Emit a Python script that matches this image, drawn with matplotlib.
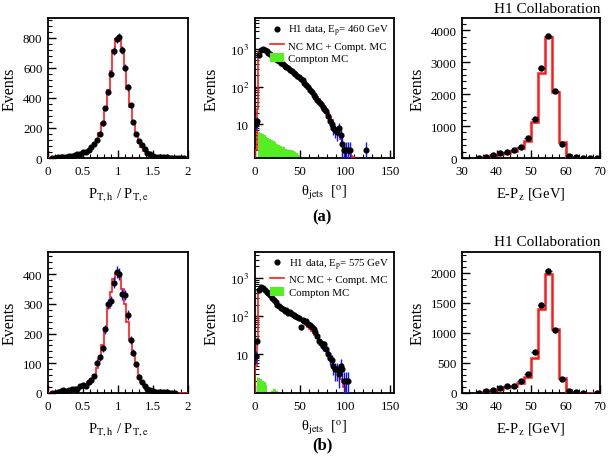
import numpy as np
import matplotlib
matplotlib.use('Agg')
import matplotlib.pyplot as plt
from matplotlib.lines import Line2D
from matplotlib.patches import Patch
from matplotlib.ticker import FixedLocator, FixedFormatter, AutoMinorLocator, LogLocator, NullFormatter

plt.rcParams['font.family'] = ['Liberation Serif', 'DejaVu Serif']
plt.rcParams['mathtext.fontset'] = 'stix'

# ---- P_T,h / P_T,e balance (0.04 wide bins, 0..2)
pt_edges = np.linspace(0, 2, 51)
pt_data_a = [0, 2, 3, 4, 6, 8, 10, 12, 15, 20, 25, 30, 40, 38, 55, 70, 90, 120, 160, 230,
             330, 440, 560, 710, 790, 805, 720, 600, 470, 350, 240, 160, 110, 85, 60, 35, 25, 15, 10, 8,
             6, 5, 4, 3, 2, 2, 1, 1, 1, 0]
pt_mc_a = [0, 1, 2, 4, 5, 7, 9, 11, 14, 18, 23, 29, 35, 42, 52, 66, 88, 118, 165, 235,
           335, 450, 580, 720, 790, 800, 710, 590, 460, 340, 235, 150, 100, 70, 48, 32, 22, 15, 10, 7,
           5, 4, 3, 2, 2, 1, 1, 1, 0, 0]
pt_data_b = [0, 1, 1, 2, 6, 9, 8, 10, 12, 14, 15, 22, 26, 25, 38, 45, 58, 100, 120, 150,
             215, 300, 310, 372, 408, 400, 332, 330, 262, 180, 135, 96, 55, 38, 22, 15, 10, 7, 5, 4,
             3, 2, 2, 1, 1, 1, 0, 0, 0, 0]
pt_mc_b = [0, 1, 1, 2, 4, 6, 7, 9, 11, 13, 16, 20, 24, 29, 36, 46, 62, 85, 115, 160,
           220, 285, 340, 385, 405, 390, 350, 300, 240, 180, 130, 90, 58, 38, 24, 16, 10, 7, 5, 3,
           2, 2, 1, 1, 1, 0, 0, 0, 0, 0]

# ---- theta_jets (2 degree bins, 0..130)
th_edges = np.arange(0, 132, 2)
th_data_a = [10, 12, 700, 960, 1000, 960, 880, 800, 735, 675, 620, 565, 520, 475, 435, 400, 365, 335,
             305, 280, 255, 235, 215, 195, 180, 165, 150, 128, 110, 95, 82, 71, 61, 53, 45, 39, 34, 29,
             25, 22, 17, 12, 10, 8, 7, 6, 8, 5, 3, 2, 2, 2, 2, 0, 0, 0, 0, 0, 0, 0, 0, 2, 0, 0, 0]
th_mc_a = [2, 25, 820, 900, 920, 880, 820, 760, 700, 640, 590, 540, 495, 455, 420, 385, 355, 325,
           298, 272, 250, 230, 210, 192, 176, 160, 147, 133, 118, 104, 92, 80, 70, 61, 53, 46, 40, 34,
           29, 25, 20, 16, 13, 10, 8, 6, 5, 4, 3, 2.5, 2, 1.8, 1.6, 1.4, 1.3, 0, 0, 0, 0, 0, 0, 0, 0, 0, 0]
th_compt_a = [0, 0, 6, 5.8, 5.5, 5, 4.6, 4.2, 4, 3.8, 3.5, 3.3, 3, 2.8, 2.6, 2.5, 2.4, 2.2, 2.1, 2.0,
              2.0, 1.9, 1.8, 1.7, 1.5] + [0] * 40
th_data_b = [9, 22, 480, 570, 530, 490, 440, 400, 350, 300, 270, 230, 200, 180, 160, 150, 135, 140,
             120, 125, 112, 105, 98, 95, 88, 50, 80, 72, 75, 62, 58, 52, 45, 38, 30, 22, 20, 16, 18, 14,
             10, 8, 7, 5, 4, 4, 3, 5, 4, 2, 2, 2] + [0] * 13
th_mc_b = [5, 20, 480, 520, 490, 450, 410, 370, 335, 300, 270, 243, 220, 200, 182, 166, 152, 140,
           130, 120, 111, 103, 96, 89, 82, 76, 70, 64, 58, 52, 46, 41, 36, 31, 27, 23, 19.5, 16.5, 14, 12,
           10, 8, 6.5, 5.2, 4.2, 3.4, 2.7, 2.2, 1.8, 1.4] + [0] * 15
th_compt_b = [0, 2.5, 2.4, 2.2, 2.0, 1.8, 1.5, 0, 0, 1.1, 1.2, 1.2, 1.1] + [0] * 52

# ---- E-Pz (2 GeV bins, 34..70)
ep_edges = np.arange(34, 72, 2)
ep_data_a = [5, 40, 100, 150, 180, 250, 350, 620, 1230, 2830, 3820, 2100, 450, 60, 20, 5, 5, 5]
ep_mc_a = [5, 30, 80, 120, 160, 230, 320, 520, 1120, 2650, 3800, 2080, 500, 20, 10, 5, 3, 2]
ep_data_b = [5, 25, 50, 80, 110, 120, 200, 310, 680, 1470, 2040, 1050, 240, 30, 10, 3, 0, 2]
ep_mc_b = [3, 20, 45, 70, 95, 115, 160, 260, 580, 1400, 1980, 1060, 250, 10, 5, 2, 1, 1]

RED = '#ff1a1a'
BLUE = '#1010ff'
GREEN = '#55ee22'


def style(ax, ylab_x):
    for s in ax.spines.values():
        s.set_linewidth(1.3)
    ax.tick_params(which='both', direction='in', top=False, right=False, labelsize=9.3)
    ax.tick_params(axis='x', pad=5)
    ax.tick_params(axis='y', pad=4)
    ax.tick_params(which='major', length=6, width=1)
    ax.tick_params(which='minor', length=3, width=0.8)
    ax.set_ylabel('Events', fontsize=11.5)
    ax.yaxis.set_label_coords(ylab_x, 0.5)


def draw_data(ax, edges, data, ms=3.6):
    edges = np.asarray(edges, float)
    c = 0.5 * (edges[1:] + edges[:-1])
    hw = 0.5 * np.diff(edges)
    d = np.asarray(data, float)
    m = d > 0
    ax.errorbar(c[m], d[m], yerr=np.sqrt(d[m]), xerr=hw[m], fmt='o', color='black',
                ecolor=BLUE, elinewidth=1.0, capsize=0, ms=ms, zorder=4)


def pt_panel(ax, data, mc, ymax, yticks):
    ax.stairs(mc, pt_edges, color=RED, lw=1.2, zorder=3)
    draw_data(ax, pt_edges, data, ms=3.4)
    ax.set_xlim(0, 2)
    ax.set_ylim(0, ymax)
    ax.set_xticks([0, 0.5, 1, 1.5, 2])
    ax.set_xticklabels(['0', '0.5', '1', '1.5', '2'])
    ax.set_yticks(yticks)
    ax.xaxis.set_minor_locator(AutoMinorLocator(5))
    ax.yaxis.set_minor_locator(AutoMinorLocator(5))
    style(ax, -0.215)
    ax.set_xlabel(r'P$_{\mathrm{T,h}}$ / P$_{\mathrm{T,e}}$', fontsize=10.5, labelpad=6)


def th_panel(ax, data, mc, compt, ylim, ep):
    ax.set_yscale('log')
    ax.stairs(compt, th_edges, fill=True, color=GREEN, baseline=1e-3, zorder=2)
    ax.stairs(mc, th_edges, color=RED, lw=1.2, zorder=3, baseline=1e-3)
    draw_data(ax, th_edges, data, ms=3.4)
    ax.set_xlim(0, 154)
    ax.set_ylim(*ylim)
    ax.set_xticks([0, 50, 100, 150])
    ax.xaxis.set_minor_locator(AutoMinorLocator(5))
    ax.yaxis.set_major_locator(FixedLocator([10, 100, 1000]))
    ax.yaxis.set_major_formatter(FixedFormatter(['10', r'10$^{2}$', r'10$^{3}$']))
    ax.yaxis.set_minor_locator(LogLocator(base=10, subs=np.arange(2, 10)))
    ax.yaxis.set_minor_formatter(NullFormatter())
    style(ax, -0.255)
    ax.set_xlabel(r'θ$_{\mathrm{jets}}$  [$^{\mathrm{o}}$]', fontsize=10.5, labelpad=4)
    handles = [Line2D([], [], marker='o', ls='none', color='black', ms=3.4),
               Line2D([], [], color=RED, lw=1.2),
               Patch(facecolor=GREEN, edgecolor='none')]
    labels = [r'H1 data, E$_{\mathrm{p}}$= %d GeV' % ep, 'NC MC + Compt. MC', 'Compton MC']
    ax.legend(handles, labels, loc='upper right', frameon=False, fontsize=7.8,
              handlelength=1.3, handleheight=0.9, handletextpad=0.4, labelspacing=0.2,
              borderaxespad=0.15, borderpad=0.3)


def ep_panel(ax, data, mc, ymax, yticks):
    ax.stairs(mc, ep_edges, color=RED, lw=1.8, zorder=3)
    draw_data(ax, ep_edges, data)
    ax.set_xlim(30, 70)
    ax.set_ylim(0, ymax)
    ax.set_xticks([30, 40, 50, 60, 70])
    ax.set_yticks(yticks)
    ax.xaxis.set_minor_locator(AutoMinorLocator(5))
    ax.yaxis.set_minor_locator(AutoMinorLocator(5))
    style(ax, -0.265)
    ax.set_xlabel(r'E-P$_{\mathrm{z}}$ [GeV]', fontsize=10.5, labelpad=6)
    ax.text(1.005, 1.025, 'H1 Collaboration', transform=ax.transAxes, ha='right', va='bottom',
            fontsize=11)


fig = plt.figure(figsize=(6.08, 4.6), dpi=100)
xs = [0.079, 0.419, 0.760]
ws = [0.230, 0.229, 0.227]
ax1 = fig.add_axes([xs[0], 0.6543, ws[0], 0.304])
ax2 = fig.add_axes([xs[1], 0.6543, ws[1], 0.304])
ax3 = fig.add_axes([xs[2], 0.6543, ws[2], 0.304])
ax4 = fig.add_axes([xs[0], 0.1435, ws[0], 0.3065])
ax5 = fig.add_axes([xs[1], 0.1435, ws[1], 0.3065])
ax6 = fig.add_axes([xs[2], 0.1435, ws[2], 0.3065])

pt_panel(ax1, pt_data_a, pt_mc_a, 930, [0, 200, 400, 600, 800])
th_panel(ax2, th_data_a, th_mc_a, th_compt_a, (1.25, 6700), 460)
ep_panel(ax3, ep_data_a, ep_mc_a, 4380, [0, 1000, 2000, 3000, 4000])
pt_panel(ax4, pt_data_b, pt_mc_b, 475, [0, 100, 200, 300, 400])
th_panel(ax5, th_data_b, th_mc_b, th_compt_b, (0.95, 4800), 575)
ep_panel(ax6, ep_data_b, ep_mc_b, 2350, [0, 500, 1000, 1500, 2000])

fig.text(0.530, 1 - 217 / 460, '(a)', ha='center', va='center', fontsize=12, fontweight='bold')
fig.text(0.530, 1 - 445 / 460, '(b)', ha='center', va='center', fontsize=12, fontweight='bold')

fig.savefig('out.png', dpi=100)
